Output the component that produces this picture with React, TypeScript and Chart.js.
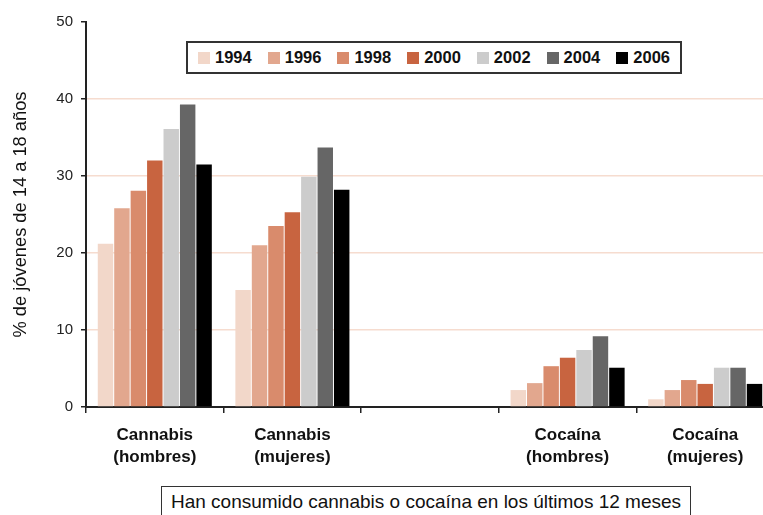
import React, { useEffect, useRef } from 'react';
import { Chart, registerables } from 'chart.js';
Chart.register(...registerables);

const FONT = '"Liberation Sans", Arial, Helvetica, sans-serif';

const categories = [
  ['Cannabis', '(hombres)'],
  ['Cannabis', '(mujeres)'],
  '',
  ['Cocaína', '(hombres)'],
  ['Cocaína', '(mujeres)'],
];

const years = ['1994', '1996', '1998', '2000', '2002', '2004', '2006'];
const colors = ['#f2d7c9', '#e2a78e', '#d98b6c', '#c86440', '#cccccc', '#666666', '#000000'];

const v1994 = [21.2, 15.2, null, 2.2, 1.0];
const v1996 = [25.8, 21.0, null, 3.1, 2.2];
const v1998 = [28.1, 23.5, null, 5.3, 3.5];
const v2000 = [32.0, 25.3, null, 6.4, 3.0];
const v2002 = [36.1, 29.9, null, 7.4, 5.1];
const v2004 = [39.3, 33.7, null, 9.2, 5.1];
const v2006 = [31.5, 28.2, null, 5.1, 3.0];
const series = [v1994, v1996, v1998, v2000, v2002, v2004, v2006];

const yTitle = '% de jóvenes de 14 a 18 años';
const footer = 'Han consumido cannabis o cocaína en los últimos 12 meses';

export default function App() {
  const ref = useRef<HTMLCanvasElement>(null);
  useEffect(() => {
    const chart = new Chart(ref.current!, {
      type: 'bar',
      data: {
        labels: categories as any,
        datasets: years.map((y, i) => ({
          label: y,
          data: series[i] as any,
          backgroundColor: colors[i],
          categoryPercentage: 0.836,
          barPercentage: 0.94,
        })),
      },
      options: {
        responsive: false,
        animation: false,
        layout: { padding: { top: 22, right: 16, left: 0, bottom: 0 } },
        plugins: { legend: { display: false }, tooltip: { enabled: false } },
        scales: {
          x: {
            grid: { offset: true, drawOnChartArea: false, drawTicks: true, tickLength: 6, color: '#222', lineWidth: 1.5 },
            border: { display: true, color: '#222', width: 2 },
            ticks: {
              font: { family: FONT, size: 17, weight: 'bold', lineHeight: 1.3 },
              color: '#111',
              padding: 11,
              maxRotation: 0,
              autoSkip: false,
            },
            afterFit: (s: any) => { s.height = 108; },
          },
          y: {
            min: 0,
            max: 50,
            ticks: { stepSize: 10, font: { family: FONT, size: 15 }, color: '#222', padding: 8 },
            grid: {
              color: (ctx: any) => (ctx.tick && (ctx.tick.value === 0 || ctx.tick.value === 50)) ? 'rgba(0,0,0,0)' : '#f6dccf',
              lineWidth: 1.5,
              tickColor: '#222',
              tickLength: 5,
              drawTicks: true,
            },
            border: { color: '#222', width: 2 },
            title: {
              display: true,
              text: yTitle,
              font: { family: FONT, size: 18.3 },
              color: '#111',
              padding: { top: 10, bottom: 0 },
            },
            afterFit: (s: any) => { s.width = 86; },
          },
        },
      } as any,
    });
    return () => chart.destroy();
  }, []);

  return (
    <div style={{ position: 'fixed', left: 0, top: 0, width: 763, height: 515, overflow: 'hidden', background: '#fff' }}>
      <canvas ref={ref} width={790} height={515} style={{ display: 'block', position: 'absolute', left: 0, top: 0 }} />
      <div
        style={{
          position: 'absolute', left: 186, top: 41, width: 496, height: 33, boxSizing: 'border-box',
          border: '2px solid #333', background: '#fff', display: 'flex', alignItems: 'center', justifyContent: 'center',
          gap: 16, fontFamily: FONT, fontWeight: 'bold', fontSize: 16.5, color: '#111',
        }}
      >
        {years.map((y, i) => (
          <div key={y} style={{ display: 'flex', alignItems: 'center' }}>
            <span style={{ display: 'inline-block', width: 12, height: 12, background: colors[i], marginRight: 5 }} />
            <span>{y}</span>
          </div>
        ))}
      </div>
      <div
        style={{
          position: 'absolute', left: 161, top: 486, width: 530, height: 40, boxSizing: 'border-box',
          border: '1px solid #333', background: '#fff', textAlign: 'center', fontFamily: FONT, fontSize: 19,
          lineHeight: '30px', color: '#111', whiteSpace: 'nowrap',
        }}
      >
        {footer}
      </div>
    </div>
  );
}
